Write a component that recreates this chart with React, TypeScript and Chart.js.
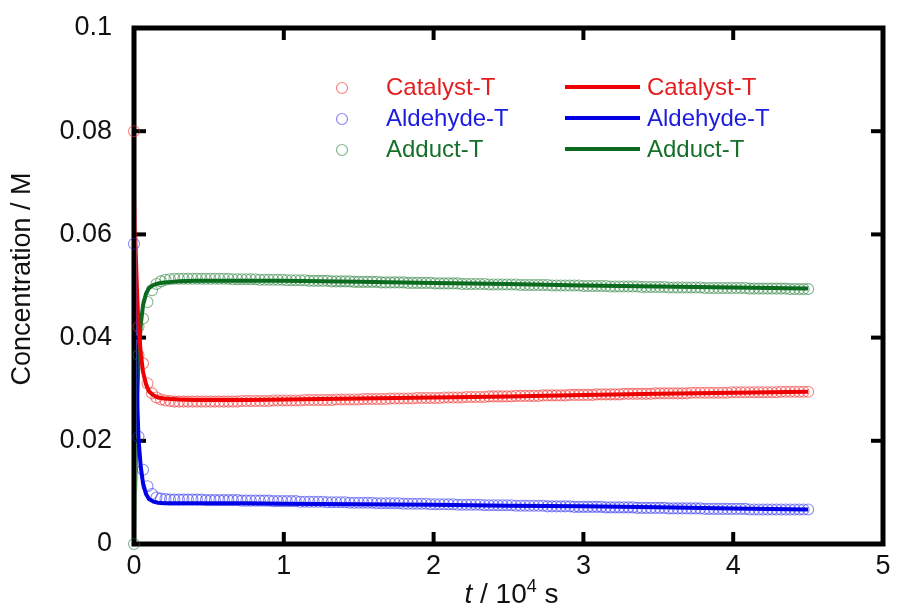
import React, { useEffect, useRef } from "react";
import { Chart, registerables } from "chart.js";

Chart.register(...registerables);

// ---------- data (t in 10^4 s, concentrations in M) ----------
const timeObs = [
  0, 0.03, 0.06, 0.09, 0.12, 0.15, 0.18, 0.21, 0.24, 0.27,
  0.3, 0.33, 0.36, 0.39, 0.42, 0.45, 0.48, 0.51, 0.54, 0.57,
  0.6, 0.63, 0.66, 0.69, 0.72, 0.75, 0.78, 0.81, 0.84, 0.87,
  0.9, 0.93, 0.96, 0.99, 1.02, 1.05, 1.08, 1.11, 1.14, 1.17,
  1.2, 1.23, 1.26, 1.29, 1.32, 1.35, 1.38, 1.41, 1.44, 1.47,
  1.5, 1.53, 1.56, 1.59, 1.62, 1.65, 1.68, 1.71, 1.74, 1.77,
  1.8, 1.83, 1.86, 1.89, 1.92, 1.95, 1.98, 2.01, 2.04, 2.07,
  2.1, 2.13, 2.16, 2.19, 2.22, 2.25, 2.28, 2.31, 2.34, 2.37,
  2.4, 2.43, 2.46, 2.49, 2.52, 2.55, 2.58, 2.61, 2.64, 2.67,
  2.7, 2.73, 2.76, 2.79, 2.82, 2.85, 2.88, 2.91, 2.94, 2.97,
  3.0, 3.03, 3.06, 3.09, 3.12, 3.15, 3.18, 3.21, 3.24, 3.27,
  3.3, 3.33, 3.36, 3.39, 3.42, 3.45, 3.48, 3.51, 3.54, 3.57,
  3.6, 3.63, 3.66, 3.69, 3.72, 3.75, 3.78, 3.81, 3.84, 3.87,
  3.9, 3.93, 3.96, 3.99, 4.02, 4.05, 4.08, 4.11, 4.14, 4.17,
  4.2, 4.23, 4.26, 4.29, 4.32, 4.35, 4.38, 4.41, 4.44, 4.47,
  4.5,
];

const catalystObs = [
  0.0800, 0.0421, 0.0350, 0.0311, 0.0292, 0.0284, 0.0280, 0.0278, 0.0277, 0.0276,
  0.0276, 0.0276, 0.0276, 0.0276, 0.0276, 0.0276, 0.0276, 0.0276, 0.0276, 0.0276,
  0.0276, 0.0276, 0.0276, 0.0276, 0.0277, 0.0277, 0.0277, 0.0277, 0.0277, 0.0277,
  0.0277, 0.0278, 0.0278, 0.0278, 0.0278, 0.0278, 0.0278, 0.0278, 0.0279, 0.0279,
  0.0279, 0.0279, 0.0279, 0.0279, 0.0279, 0.0280, 0.0280, 0.0280, 0.0280, 0.0280,
  0.0280, 0.0281, 0.0281, 0.0281, 0.0281, 0.0281, 0.0281, 0.0282, 0.0282, 0.0282,
  0.0282, 0.0282, 0.0282, 0.0283, 0.0283, 0.0283, 0.0283, 0.0283, 0.0283, 0.0284,
  0.0284, 0.0284, 0.0284, 0.0284, 0.0285, 0.0285, 0.0285, 0.0285, 0.0285, 0.0286,
  0.0286, 0.0286, 0.0286, 0.0286, 0.0286, 0.0287, 0.0287, 0.0287, 0.0287, 0.0287,
  0.0287, 0.0288, 0.0288, 0.0288, 0.0288, 0.0288, 0.0288, 0.0289, 0.0289, 0.0289,
  0.0289, 0.0289, 0.0289, 0.0290, 0.0290, 0.0290, 0.0290, 0.0290, 0.0290, 0.0291,
  0.0291, 0.0291, 0.0291, 0.0291, 0.0291, 0.0291, 0.0292, 0.0292, 0.0292, 0.0292,
  0.0292, 0.0292, 0.0292, 0.0292, 0.0293, 0.0293, 0.0293, 0.0293, 0.0293, 0.0293,
  0.0293, 0.0293, 0.0293, 0.0294, 0.0294, 0.0294, 0.0294, 0.0294, 0.0294, 0.0294,
  0.0294, 0.0294, 0.0294, 0.0294, 0.0295, 0.0295, 0.0295, 0.0295, 0.0295, 0.0295,
  0.0295,
];

const aldehydeObs = [
  0.0582, 0.0208, 0.0144, 0.0112, 0.0097, 0.0090, 0.0088, 0.0087, 0.0086, 0.0086,
  0.0086, 0.0086, 0.0086, 0.0086, 0.0086, 0.0086, 0.0085, 0.0085, 0.0085, 0.0085,
  0.0085, 0.0085, 0.0085, 0.0085, 0.0084, 0.0084, 0.0084, 0.0084, 0.0084, 0.0084,
  0.0084, 0.0083, 0.0083, 0.0083, 0.0083, 0.0083, 0.0083, 0.0082, 0.0082, 0.0082,
  0.0082, 0.0082, 0.0082, 0.0081, 0.0081, 0.0081, 0.0081, 0.0081, 0.0080, 0.0080,
  0.0080, 0.0080, 0.0080, 0.0080, 0.0079, 0.0079, 0.0079, 0.0079, 0.0079, 0.0079,
  0.0078, 0.0078, 0.0078, 0.0078, 0.0078, 0.0078, 0.0077, 0.0077, 0.0077, 0.0077,
  0.0077, 0.0077, 0.0076, 0.0076, 0.0076, 0.0076, 0.0076, 0.0076, 0.0075, 0.0075,
  0.0075, 0.0075, 0.0075, 0.0075, 0.0075, 0.0074, 0.0074, 0.0074, 0.0074, 0.0074,
  0.0074, 0.0074, 0.0073, 0.0073, 0.0073, 0.0073, 0.0073, 0.0073, 0.0072, 0.0072,
  0.0072, 0.0072, 0.0072, 0.0072, 0.0072, 0.0071, 0.0071, 0.0071, 0.0071, 0.0071,
  0.0071, 0.0071, 0.0070, 0.0070, 0.0070, 0.0070, 0.0070, 0.0070, 0.0070, 0.0069,
  0.0069, 0.0069, 0.0069, 0.0069, 0.0069, 0.0069, 0.0069, 0.0068, 0.0068, 0.0068,
  0.0068, 0.0068, 0.0068, 0.0068, 0.0068, 0.0068, 0.0068, 0.0067, 0.0067, 0.0067,
  0.0067, 0.0067, 0.0067, 0.0067, 0.0067, 0.0067, 0.0067, 0.0067, 0.0067, 0.0067,
  0.0067,
];

const adductObs = [
  0.0000, 0.0366, 0.0437, 0.0469, 0.0492, 0.0504, 0.0509, 0.0512, 0.0513, 0.0514,
  0.0514, 0.0514, 0.0514, 0.0514, 0.0514, 0.0514, 0.0514, 0.0514, 0.0514, 0.0514,
  0.0514, 0.0514, 0.0513, 0.0513, 0.0513, 0.0513, 0.0513, 0.0513, 0.0512, 0.0512,
  0.0512, 0.0512, 0.0512, 0.0512, 0.0511, 0.0511, 0.0511, 0.0511, 0.0511, 0.0510,
  0.0510, 0.0510, 0.0510, 0.0510, 0.0509, 0.0509, 0.0509, 0.0509, 0.0509, 0.0508,
  0.0508, 0.0508, 0.0508, 0.0508, 0.0508, 0.0507, 0.0507, 0.0507, 0.0507, 0.0507,
  0.0507, 0.0506, 0.0506, 0.0506, 0.0506, 0.0506, 0.0506, 0.0505, 0.0505, 0.0505,
  0.0505, 0.0505, 0.0505, 0.0504, 0.0504, 0.0504, 0.0504, 0.0504, 0.0504, 0.0503,
  0.0503, 0.0503, 0.0503, 0.0503, 0.0503, 0.0503, 0.0502, 0.0502, 0.0502, 0.0502,
  0.0502, 0.0502, 0.0502, 0.0501, 0.0501, 0.0501, 0.0501, 0.0501, 0.0501, 0.0501,
  0.0500, 0.0500, 0.0500, 0.0500, 0.0500, 0.0500, 0.0499, 0.0499, 0.0499, 0.0499,
  0.0499, 0.0499, 0.0499, 0.0498, 0.0498, 0.0498, 0.0498, 0.0498, 0.0498, 0.0497,
  0.0497, 0.0497, 0.0497, 0.0497, 0.0497, 0.0497, 0.0497, 0.0496, 0.0496, 0.0496,
  0.0496, 0.0496, 0.0496, 0.0496, 0.0496, 0.0496, 0.0496, 0.0495, 0.0495, 0.0495,
  0.0495, 0.0495, 0.0495, 0.0495, 0.0495, 0.0495, 0.0494, 0.0494, 0.0494, 0.0494,
  0.0494,
];

const timeFit = [
  0, 0.01, 0.02, 0.03, 0.045, 0.06, 0.08, 0.1, 0.13, 0.16, 0.2, 0.25,
  0.3, 0.4, 0.5, 0.75, 1, 1.5, 2, 2.5, 3, 3.5, 4, 4.5,
];
const catalystFit = [
  0.068, 0.058, 0.049, 0.0424, 0.037, 0.0334, 0.031, 0.0296, 0.0288, 0.0284, 0.0282, 0.0281,
  0.028, 0.0279, 0.0279, 0.0279, 0.028, 0.0282, 0.0284, 0.0286, 0.0289, 0.0291, 0.0293, 0.0295,
];
const aldehydeFit = [
  0.058, 0.042, 0.029, 0.0203, 0.015, 0.0118, 0.0097, 0.0087, 0.0082, 0.008, 0.0079, 0.0079,
  0.0079, 0.0079, 0.0079, 0.0079, 0.0078, 0.0077, 0.0076, 0.0074, 0.0073, 0.0071, 0.0069, 0.0067,
];
const adductFit = [
  0.0, 0.014, 0.026, 0.036, 0.0425, 0.0462, 0.0485, 0.0496, 0.0502, 0.0505, 0.0507, 0.0508,
  0.0509, 0.051, 0.051, 0.051, 0.051, 0.0508, 0.0506, 0.0504, 0.0501, 0.0499, 0.0497, 0.0495,
];

const seriesNames = ["Catalyst-T", "Aldehyde-T", "Adduct-T"];
const xTickValues = [0, 1, 2, 3, 4, 5];
const yTickValues = [0, 0.02, 0.04, 0.06, 0.08, 0.1];
const yTitle = "Concentration / M";

// ---------- styles ----------
const FONT = "'Liberation Sans', Arial, sans-serif";
const lineColors = ["#ee0000", "#0000e6", "#0a6a1e"];
const markerColors = ["rgba(240,50,50,0.6)", "rgba(40,40,240,0.55)", "rgba(30,120,50,0.55)"];
const textColors = ["#e41e1e", "#1c1ce0", "#16702a"];

const pts = (xs: number[], ys: number[]) => xs.map((x, i) => ({ x, y: ys[i] }));

const framePlugin = {
  id: "frameTicks",
  beforeDatasetsDraw(chart: any) {
    const { ctx, chartArea: a, scales } = chart;
    ctx.save();
    ctx.strokeStyle = "#000";
    ctx.lineWidth = 5;
    ctx.lineJoin = "miter";
    ctx.strokeRect(a.left, a.top, a.right - a.left, a.bottom - a.top);
    ctx.lineWidth = 4;
    ctx.lineCap = "butt";
    const L = 12;
    const seg = (x1: number, y1: number, x2: number, y2: number) => {
      ctx.beginPath();
      ctx.moveTo(x1, y1);
      ctx.lineTo(x2, y2);
      ctx.stroke();
    };
    xTickValues.slice(1, -1).forEach((v) => {
      const px = scales.x.getPixelForValue(v);
      seg(px, a.bottom, px, a.bottom - L);
      seg(px, a.top, px, a.top + L);
    });
    yTickValues.slice(1, -1).forEach((v) => {
      const py = scales.y.getPixelForValue(v);
      seg(a.left, py, a.left + L, py);
      seg(a.right, py, a.right - L, py);
    });
    ctx.restore();
  },
};

const textPlugin = {
  id: "titlesLegend",
  afterDraw(chart: any) {
    const { ctx, chartArea: a } = chart;
    ctx.save();
    // y title
    ctx.fillStyle = "#111";
    ctx.font = `27px ${FONT}`;
    ctx.textAlign = "center";
    ctx.textBaseline = "middle";
    ctx.save();
    ctx.translate(23, 279);
    ctx.rotate(-Math.PI / 2);
    ctx.fillText(yTitle, 0, 0);
    ctx.restore();

    // x title: italic t / 10^4 s
    const parts = [
      { t: "t", f: `italic 28px ${FONT}`, dy: 0 },
      { t: " / 10", f: `28px ${FONT}`, dy: 0 },
      { t: "4", f: `18px ${FONT}`, dy: -11 },
      { t: " s", f: `28px ${FONT}`, dy: 0 },
    ];
    let total = 0;
    parts.forEach((p) => {
      ctx.font = p.f;
      total += ctx.measureText(p.t).width;
    });
    let x = (a.left + a.right) / 2 - total / 2 + 3;
    const base = 603;
    ctx.textAlign = "left";
    ctx.textBaseline = "alphabetic";
    parts.forEach((p) => {
      ctx.font = p.f;
      ctx.fillText(p.t, x, base + p.dy);
      x += ctx.measureText(p.t).width;
    });

    // legend
    const rows = [88, 119, 150];
    ctx.font = `24px ${FONT}`;
    ctx.textBaseline = "middle";
    seriesNames.forEach((name, i) => {
      const y = rows[i];
      ctx.strokeStyle = markerColors[i];
      ctx.lineWidth = 1.2;
      ctx.beginPath();
      ctx.arc(342, y, 5.5, 0, Math.PI * 2);
      ctx.stroke();
      ctx.fillStyle = textColors[i];
      ctx.fillText(name, 386, y);
      ctx.strokeStyle = lineColors[i];
      ctx.lineWidth = 4;
      ctx.beginPath();
      ctx.moveTo(565, y - 1);
      ctx.lineTo(640, y - 1);
      ctx.stroke();
      ctx.fillText(name, 647, y);
    });
    ctx.restore();
  },
};

export default function App() {
  const ref = useRef<HTMLCanvasElement | null>(null);

  useEffect(() => {
    document.body.style.margin = "0";
    const canvas = ref.current;
    if (!canvas) return;
    const fitSets = [catalystFit, aldehydeFit, adductFit].map((ys, i) => ({
      label: seriesNames[i] + " fit",
      data: pts(timeFit, ys),
      showLine: true,
      borderColor: lineColors[i],
      backgroundColor: lineColors[i],
      borderWidth: 4,
      pointRadius: 0,
      tension: 0,
      order: 0,
      clip: { left: -2.5, bottom: -2.5, top: false, right: false } as any,
    }));
    const obsSets = [catalystObs, aldehydeObs, adductObs].map((ys, i) => ({
      label: seriesNames[i],
      data: pts(timeObs, ys),
      showLine: false,
      pointStyle: "circle",
      pointRadius: 5.5,
      pointBorderWidth: 1.1,
      borderColor: markerColors[i],
      pointBorderColor: markerColors[i],
      pointBackgroundColor: "rgba(0,0,0,0)",
      backgroundColor: "rgba(0,0,0,0)",
      order: 1,
      clip: false as any,
    }));
    const chart = new Chart(canvas, {
      type: "scatter",
      data: { datasets: [...obsSets, ...fitSets] as any },
      options: {
        responsive: false,
        animation: false,
        devicePixelRatio: 1,
        layout: { padding: { left: 0, right: 17, top: 28, bottom: 0 } },
        plugins: { legend: { display: false }, tooltip: { enabled: false } },
        scales: {
          x: {
            type: "linear",
            min: 0,
            max: 5,
            grid: { display: false, drawTicks: false },
            border: { display: false },
            ticks: {
              stepSize: 1,
              padding: 6,
              color: "#111",
              font: { family: FONT, size: 27 },
              maxRotation: 0,
              callback: (v: any) => String(v),
            },
            afterFit: (s: any) => {
              s.height = 64;
              s.paddingLeft = 0;
              s.paddingRight = 0;
            },
          },
          y: {
            type: "linear",
            min: 0,
            max: 0.1,
            grid: { display: false, drawTicks: false },
            border: { display: false },
            ticks: {
              stepSize: 0.02,
              padding: 22,
              color: "#111",
              font: { family: FONT, size: 27 },
              callback: (v: any) => String(Number(Number(v).toFixed(2))),
            },
            afterFit: (s: any) => {
              s.width = 134;
              s.paddingTop = 0;
              s.paddingBottom = 0;
            },
          },
        },
      },
      plugins: [framePlugin, textPlugin],
    });
    return () => chart.destroy();
  }, []);

  return (
    <div style={{ width: 900, height: 608, background: "#fff" }}>
      <canvas ref={ref} width={900} height={608} style={{ display: "block" }} />
    </div>
  );
}
